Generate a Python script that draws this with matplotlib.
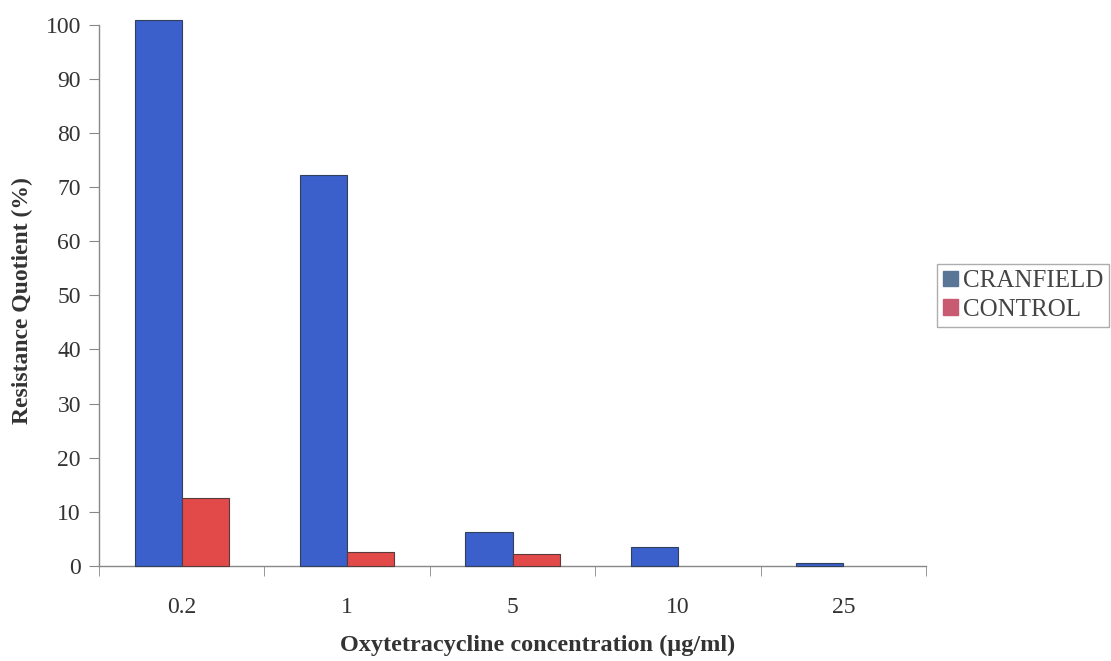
import matplotlib
matplotlib.use("Agg")
import matplotlib.pyplot as plt
from matplotlib.patches import Patch
import numpy as np

categories = ["0.2", "1", "5", "10", "25"]
cranfield = [100.8, 72.3, 6.3, 3.6, 0.6]
control = [12.5, 2.6, 2.2, 0.0, 0.0]

plt.rcParams['font.family'] = ['Liberation Serif', 'DejaVu Serif']

fig = plt.figure(figsize=(11.11, 6.61), dpi=100)
ax = fig.add_axes([0.0891, 0.1437, 0.7444, 0.8189])

x = np.arange(len(categories))
w = 0.285
lw_blue = [0.8 if v > 0 else 0 for v in cranfield]
lw_red = [0.8 if v > 0 else 0 for v in control]
ax.bar(x - w/2, cranfield, width=w, color='#3b5fcb', edgecolor='#33405a', linewidth=lw_blue, clip_on=False, zorder=3)
ax.bar(x + w/2, control, width=w, color='#e24a4a', edgecolor='#5a3a3a', linewidth=lw_red, clip_on=False, zorder=3)

ax.set_xlim(-0.5, len(categories) - 0.5)
ax.set_ylim(0, 100)
ax.set_yticks(np.arange(0, 101, 10))
ax.set_xticks(x)
ax.set_xticklabels(categories)
ax.set_xticks(np.arange(-0.5, len(categories), 1), minor=True)
ax.tick_params(axis='x', which='major', length=0, pad=22, labelsize=17)
ax.tick_params(axis='x', which='minor', length=7, color='#888888', direction='out')
ax.tick_params(axis='y', length=7, color='#888888', labelsize=17, pad=6)
for lbl in ax.get_yticklabels() + ax.get_xticklabels():
    lbl.set_color('#333333')

for s in ['top', 'right']:
    ax.spines[s].set_visible(False)
for s in ['left', 'bottom']:
    ax.spines[s].set_color('#888888')
    ax.spines[s].set_linewidth(1.0)

fig.text(22 / 1111, 1 - 301 / 661, 'Resistance Quotient (%)', rotation=90, ha='center', va='center',
         fontsize=17, fontweight='bold', color='#333333')
fig.text(538 / 1111, 1 - 645 / 661, 'Oxytetracycline concentration (µg/ml)', ha='center', va='center',
         fontsize=17.5, fontweight='bold', color='#333333')

handles = [Patch(facecolor='#5a7696', edgecolor='#5a7696', label='CRANFIELD'),
           Patch(facecolor='#c85a72', edgecolor='#c85a72', label='CONTROL')]
leg = fig.legend(handles=handles, loc='center left', bbox_to_anchor=(0.843, 0.553),
                 fontsize=18, frameon=True, fancybox=False, handlelength=0.6, handleheight=0.6,
                 handletextpad=0.2, borderpad=0.25, labelspacing=0.25, borderaxespad=0)
leg.get_frame().set_edgecolor('#999999')
leg.get_frame().set_linewidth(1.0)
for t in leg.get_texts():
    t.set_color('#444444')

fig.savefig('out.png', dpi=100)
